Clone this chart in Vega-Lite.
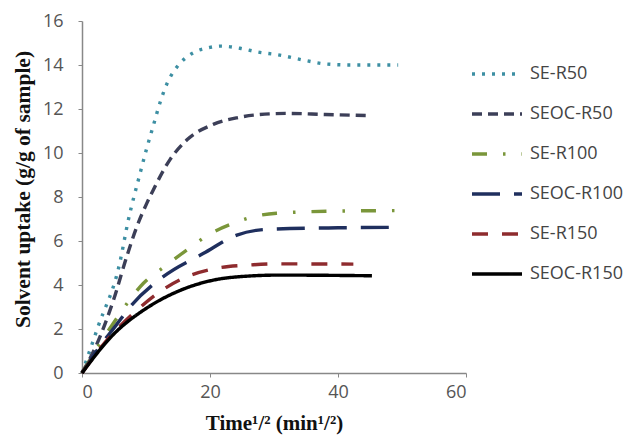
{
  "$schema": "https://vega.github.io/schema/vega-lite/v6.json",
  "width": 384,
  "height": 352,
  "autosize": {"type": "none"},
  "padding": {"left": 82, "top": 21, "right": 162, "bottom": 63},
  "background": "white",
  "config": {"view": {"stroke": null}},
  "data": {"values": [
    {"series": "SE-R50", "x": 0, "y": 0},
    {"series": "SE-R50", "x": 2.5, "y": 2.1},
    {"series": "SE-R50", "x": 5.9, "y": 5.0},
    {"series": "SE-R50", "x": 7.2, "y": 6.9},
    {"series": "SE-R50", "x": 9.1, "y": 9.1},
    {"series": "SE-R50", "x": 10.1, "y": 10.2},
    {"series": "SE-R50", "x": 11.1, "y": 11.2},
    {"series": "SE-R50", "x": 12.2, "y": 12.3},
    {"series": "SE-R50", "x": 13.2, "y": 13.1},
    {"series": "SE-R50", "x": 14.8, "y": 13.9},
    {"series": "SE-R50", "x": 16.1, "y": 14.3},
    {"series": "SE-R50", "x": 17.4, "y": 14.56},
    {"series": "SE-R50", "x": 20, "y": 14.8},
    {"series": "SE-R50", "x": 21.6, "y": 14.86},
    {"series": "SE-R50", "x": 24.7, "y": 14.76},
    {"series": "SE-R50", "x": 27.3, "y": 14.6},
    {"series": "SE-R50", "x": 30.9, "y": 14.45},
    {"series": "SE-R50", "x": 35, "y": 14.2},
    {"series": "SE-R50", "x": 38, "y": 14.05},
    {"series": "SE-R50", "x": 42, "y": 14.0},
    {"series": "SE-R50", "x": 49.4, "y": 14.0},
    {"series": "SEOC-R50", "x": 0, "y": 0},
    {"series": "SEOC-R50", "x": 2.3, "y": 1.3},
    {"series": "SEOC-R50", "x": 4.9, "y": 3.3},
    {"series": "SEOC-R50", "x": 7.0, "y": 5.3},
    {"series": "SEOC-R50", "x": 8.5, "y": 6.6},
    {"series": "SEOC-R50", "x": 10.1, "y": 7.7},
    {"series": "SEOC-R50", "x": 11.1, "y": 8.3},
    {"series": "SEOC-R50", "x": 13.75, "y": 9.7},
    {"series": "SEOC-R50", "x": 16.4, "y": 10.6},
    {"series": "SEOC-R50", "x": 20.5, "y": 11.3},
    {"series": "SEOC-R50", "x": 24.2, "y": 11.6},
    {"series": "SEOC-R50", "x": 26.8, "y": 11.72},
    {"series": "SEOC-R50", "x": 32, "y": 11.8},
    {"series": "SEOC-R50", "x": 38, "y": 11.75},
    {"series": "SEOC-R50", "x": 45, "y": 11.7},
    {"series": "SE-R100", "x": 0, "y": 0},
    {"series": "SE-R100", "x": 2.5, "y": 1.2},
    {"series": "SE-R100", "x": 4.9, "y": 2.26},
    {"series": "SE-R100", "x": 9.6, "y": 4.08},
    {"series": "SE-R100", "x": 13.2, "y": 4.9},
    {"series": "SE-R100", "x": 16.4, "y": 5.6},
    {"series": "SE-R100", "x": 19.7, "y": 6.27},
    {"series": "SE-R100", "x": 23.6, "y": 6.8},
    {"series": "SE-R100", "x": 27.5, "y": 7.15},
    {"series": "SE-R100", "x": 30.4, "y": 7.26},
    {"series": "SE-R100", "x": 40, "y": 7.36},
    {"series": "SE-R100", "x": 48.9, "y": 7.38},
    {"series": "SEOC-R100", "x": 0, "y": 0},
    {"series": "SEOC-R100", "x": 2.5, "y": 1.1},
    {"series": "SEOC-R100", "x": 5.4, "y": 2.2},
    {"series": "SEOC-R100", "x": 7.5, "y": 3.0},
    {"series": "SEOC-R100", "x": 12.7, "y": 4.38},
    {"series": "SEOC-R100", "x": 19, "y": 5.44},
    {"series": "SEOC-R100", "x": 24.2, "y": 6.27},
    {"series": "SEOC-R100", "x": 28.9, "y": 6.53},
    {"series": "SEOC-R100", "x": 40, "y": 6.6},
    {"series": "SEOC-R100", "x": 50, "y": 6.62},
    {"series": "SE-R150", "x": 0, "y": 0},
    {"series": "SE-R150", "x": 3.9, "y": 1.5},
    {"series": "SE-R150", "x": 8, "y": 2.7},
    {"series": "SE-R150", "x": 11.7, "y": 3.6},
    {"series": "SE-R150", "x": 15.8, "y": 4.3},
    {"series": "SE-R150", "x": 21, "y": 4.76},
    {"series": "SE-R150", "x": 25.7, "y": 4.9},
    {"series": "SE-R150", "x": 30.4, "y": 4.96},
    {"series": "SE-R150", "x": 42.4, "y": 4.95},
    {"series": "SEOC-R150", "x": 0, "y": 0},
    {"series": "SEOC-R150", "x": 4.9, "y": 1.75},
    {"series": "SEOC-R150", "x": 10.1, "y": 2.95},
    {"series": "SEOC-R150", "x": 15.3, "y": 3.75},
    {"series": "SEOC-R150", "x": 20.5, "y": 4.22},
    {"series": "SEOC-R150", "x": 25.7, "y": 4.4},
    {"series": "SEOC-R150", "x": 30.9, "y": 4.45},
    {"series": "SEOC-R150", "x": 45.3, "y": 4.42}
  ]},
  "mark": {"type": "line", "interpolate": "monotone", "strokeWidth": 3.4, "strokeCap": "butt"},
  "encoding": {
    "x": {
      "field": "x", "type": "quantitative",
      "scale": {"domain": [0, 60], "nice": false},
      "axis": {
        "values": [0, 20, 40, 60], "grid": false,
        "title": "Time¹/² (min¹/²)",
        "titleFont": "Liberation Serif", "titleFontSize": 21, "titleFontWeight": "bold", "titleColor": "#111111",
        "titlePadding": 11,
        "labelFont": "Open Sans", "labelFontSize": 18, "labelColor": "#555555", "labelPadding": 6,
        "domainColor": "#888888", "tickColor": "#888888", "tickSize": 4, "domainWidth": 1.5
      }
    },
    "y": {
      "field": "y", "type": "quantitative",
      "scale": {"domain": [0, 16], "nice": false},
      "axis": {
        "values": [0, 2, 4, 6, 8, 10, 12, 14, 16], "grid": false,
        "title": "Solvent uptake (g/g of sample)",
        "titleFont": "Liberation Serif", "titleFontSize": 21.5, "titleFontWeight": "bold", "titleColor": "#111111",
        "titlePadding": 8, "titleY": 168,
        "labelFont": "Open Sans", "labelFontSize": 18, "labelColor": "#555555", "labelPadding": 15,
        "domainColor": "#888888", "tickColor": "#888888", "tickSize": 4, "domainWidth": 1.5
      }
    },
    "color": {
      "field": "series", "type": "nominal",
      "scale": {
        "domain": ["SE-R50", "SEOC-R50", "SE-R100", "SEOC-R100", "SE-R150", "SEOC-R150"],
        "range": ["#3d8fa3", "#3c3f58", "#7a963a", "#1f2f5e", "#8e2b2e", "#000000"]
      },
      "legend": {
        "orient": "none", "legendX": 388, "legendY": 26,
        "title": null, "symbolType": "stroke", "symbolSize": 2500, "symbolStrokeWidth": 3.4,
        "labelFont": "Open Sans", "labelFontSize": 18, "labelColor": "#444444",
        "rowPadding": 4, "labelOffset": 6
      }
    },
    "strokeDash": {
      "field": "series", "type": "nominal",
      "scale": {
        "domain": ["SE-R50", "SEOC-R50", "SE-R100", "SEOC-R100", "SE-R150", "SEOC-R150"],
        "range": [[3, 7], [10, 6], [15, 16, 2.5, 16], [28, 14], [16, 14], [1, 0]]
      }
    }
  }
}
